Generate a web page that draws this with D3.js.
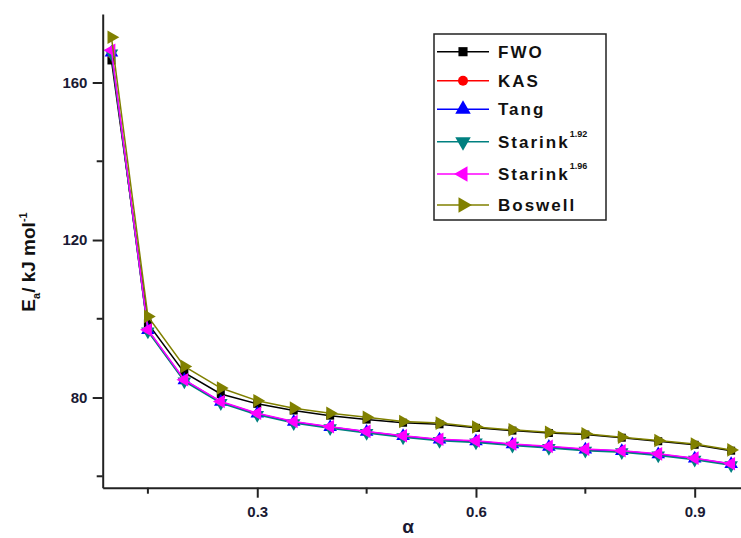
<!DOCTYPE html>
<html>
<head>
<meta charset="utf-8">
<script src="https://cdn.jsdelivr.net/npm/d3@7"></script>
<style>
  body { margin: 0; background: #fff; }
  svg text { font-family: "Liberation Sans", Arial, sans-serif; font-weight: bold; }
</style>
</head>
<body>
<svg id="chart" width="741" height="538"></svg>
<script>
// conversion values
var alpha = [0.1, 0.15, 0.2, 0.25, 0.3, 0.35, 0.4, 0.45, 0.5, 0.55, 0.6, 0.65, 0.7, 0.75, 0.8, 0.85, 0.9, 0.95]

// activation energies, kJ/mol
var fwo      = [165.6, 98.8, 86.3, 80.9, 78.4, 76.7, 75.4, 74.4, 73.6, 73.2, 72.3, 71.6, 71.0, 70.6, 69.8, 68.9, 68.0, 66.5]
var kas      = [167.2, 97.0, 84.3, 78.8, 75.8, 73.7, 72.4, 71.2, 70.1, 69.2, 68.8, 68.0, 67.4, 66.7, 66.3, 65.5, 64.4, 63.0]
var tang     = [167.6, 97.1, 84.4, 78.9, 75.9, 73.8, 72.5, 71.3, 70.2, 69.3, 68.9, 68.1, 67.5, 66.8, 66.4, 65.6, 64.5, 63.1]
var starink92 = [167.4, 96.8, 84.1, 78.6, 75.6, 73.5, 72.2, 71.0, 69.9, 69.0, 68.6, 67.8, 67.2, 66.5, 66.1, 65.3, 64.2, 62.8]
var starink96 = [168.2, 97.2, 84.5, 79.0, 76.0, 73.9, 72.6, 71.4, 70.3, 69.4, 69.0, 68.2, 67.6, 66.9, 66.5, 65.7, 64.6, 63.2]
var boswell  = [171.5, 100.6, 87.9, 82.4, 79.2, 77.3, 76.0, 75.0, 73.9, 73.5, 72.5, 71.8, 71.2, 70.8, 69.9, 69.1, 68.2, 66.7]

var seriesNames = ['FWO', 'KAS', 'Tang', 'Starink', 'Starink', 'Boswell']
var seriesSup = ['', '', '', '1.92', '1.96', '']
var seriesColors = ['#000000', '#ff0000', '#0000ff', '#008080', '#ff00ff', '#808000']

var xTicks = [0.3, 0.6, 0.9]
var xMinor = [0.15, 0.45, 0.75]
var yTicks = [80, 120, 160]
var yMinor = [60, 100, 140]

var series = [fwo, kas, tang, starink92, starink96, boswell]

var svg = d3.select('#chart')

var x = d3.scaleLinear().domain([0.088, 0.969]).range([102.7, 745])
var y = d3.scaleLinear().domain([57.1, 177.4]).range([487.7, 14])

// marker shapes
var shapes = [
  { type: d3.symbolSquare, size: 64, rot: 0 },
  { type: d3.symbolCircle, size: 60, rot: 0 },
  { type: d3.symbolTriangle, size: 80, rot: 0 },
  { type: d3.symbolTriangle, size: 80, rot: 180 },
  { type: d3.symbolTriangle, size: 80, rot: -90 },
  { type: d3.symbolTriangle, size: 80, rot: 90 }
]

var line = d3.line()
  .x(function (d) { return x(d[0]) })
  .y(function (d) { return y(d[1]) })

var plot = svg.append('g')

series.forEach(function (vals, i) {
  var pts = alpha.map(function (a, j) { return [a, vals[j]] })
  plot.append('path')
    .datum(pts)
    .attr('fill', 'none')
    .attr('stroke', seriesColors[i])
    .attr('stroke-width', 1.5)
    .attr('d', line)
  var sym = d3.symbol().type(shapes[i].type).size(shapes[i].size)
  plot.selectAll('.m' + i)
    .data(pts)
    .enter().append('path')
    .attr('class', 'm' + i)
    .attr('fill', seriesColors[i])
    .attr('d', sym)
    .attr('transform', function (d) {
      return 'translate(' + x(d[0]) + ',' + y(d[1]) + ') rotate(' + shapes[i].rot + ')'
    })
})

// axes
var xAxis = svg.append('g').attr('transform', 'translate(0,' + y.range()[0] + ')')
xAxis.call(d3.axisBottom(x).tickValues(xTicks).tickSize(10).tickSizeOuter(0).tickFormat(d3.format('.1f')))
xAxis.selectAll('.tick').data(xMinor, function (d) { return d })
xAxis.selectAll('.minor').data(xMinor).enter().append('line')
  .attr('class', 'minor')
  .attr('x1', function (d) { return x(d) }).attr('x2', function (d) { return x(d) })
  .attr('y1', 0).attr('y2', 6)
  .attr('stroke', '#222').attr('stroke-width', 2)

var yAxis = svg.append('g').attr('transform', 'translate(' + x.range()[0] + ',0)')
yAxis.call(d3.axisLeft(y).tickValues(yTicks).tickSize(10).tickSizeOuter(0))
yAxis.selectAll('.minor').data(yMinor).enter().append('line')
  .attr('class', 'minor')
  .attr('y1', function (d) { return y(d) }).attr('y2', function (d) { return y(d) })
  .attr('x1', 0).attr('x2', -6)
  .attr('stroke', '#222').attr('stroke-width', 2)

svg.selectAll('.domain').attr('stroke', '#222').attr('stroke-width', 2)
svg.selectAll('.tick line').attr('stroke', '#222').attr('stroke-width', 2)
svg.selectAll('.tick text')
  .attr('font-family', '"Liberation Sans", Arial, sans-serif')
  .attr('font-weight', 'bold').attr('font-size', 15).attr('fill', '#1a1a33')
xAxis.selectAll('.tick text').attr('dy', '1.1em')
yAxis.selectAll('.tick text').attr('dx', '-0.15em')

// axis titles
svg.append('text')
  .attr('x', 408).attr('y', 533)
  .attr('text-anchor', 'middle')
  .attr('font-size', 19)
  .attr('fill', '#1a1a33')
  .text('α')

var yt = svg.append('text')
  .attr('transform', 'translate(35,262) rotate(-90)')
  .attr('text-anchor', 'middle')
  .attr('font-size', 19)
  .attr('fill', '#111')
yt.append('tspan').text('E')
yt.append('tspan').attr('font-size', 11).attr('dy', 5).text('a')
yt.append('tspan').attr('dy', -5).text('/ kJ mol')
yt.append('tspan').attr('font-size', 11).attr('dy', -8).text('-1')

// legend
var leg = svg.append('g')
leg.append('rect')
  .attr('x', 434).attr('y', 34).attr('width', 172).attr('height', 186)
  .attr('fill', '#fff').attr('stroke', '#222').attr('stroke-width', 1.5)

var rowY = [51.7, 80.7, 109.3, 141.7, 174, 205]
seriesNames.forEach(function (name, i) {
  var g = leg.append('g').attr('transform', 'translate(0,' + rowY[i] + ')')
  g.append('line').attr('x1', 437).attr('x2', 489).attr('y1', 0).attr('y2', 0)
    .attr('stroke', seriesColors[i]).attr('stroke-width', 1.5)
  g.append('path')
    .attr('d', d3.symbol().type(shapes[i].type).size(shapes[i].size * 1.3)())
    .attr('fill', seriesColors[i])
    .attr('transform', 'translate(463,0) rotate(' + shapes[i].rot + ')')
  var t = g.append('text').attr('x', 498).attr('y', 6)
    .attr('font-size', 17).attr('letter-spacing', 2).attr('fill', '#111')
  t.append('tspan').text(name)
  if (seriesSup[i]) {
    t.append('tspan').attr('font-size', 9).attr('letter-spacing', 0).attr('dy', -11).text(seriesSup[i])
  }
})
</script>
</body>
</html>
